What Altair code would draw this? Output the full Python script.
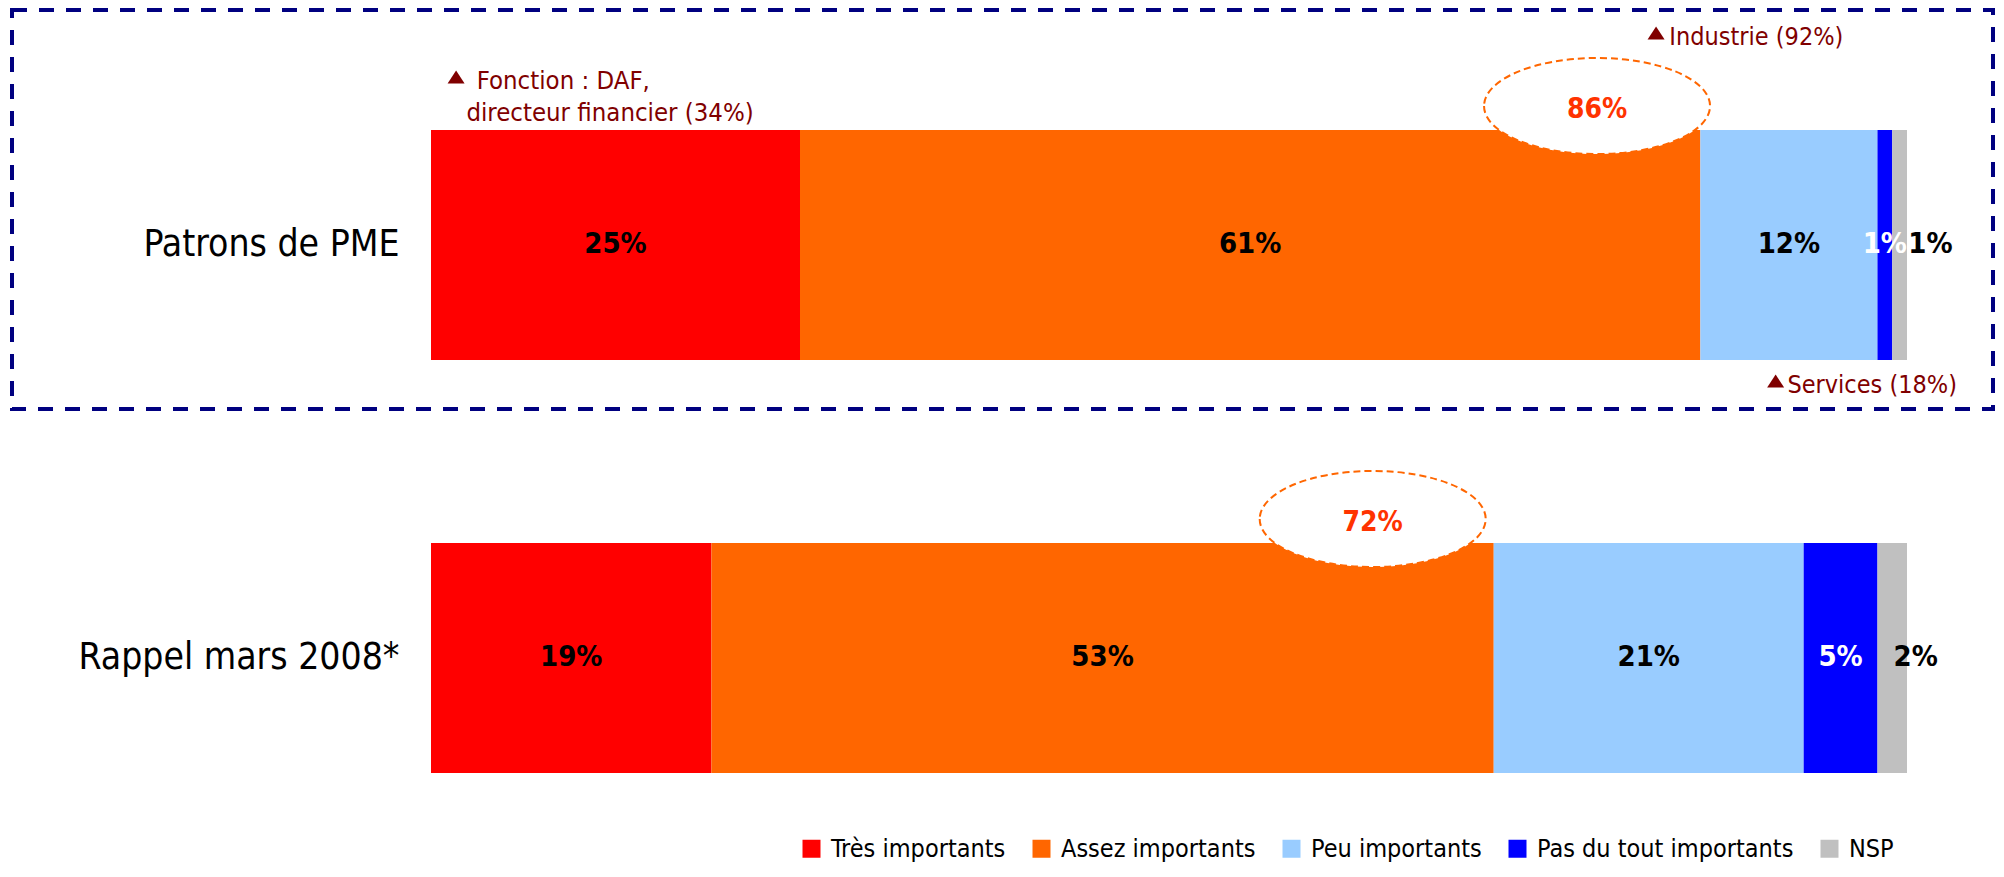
import altair as alt
import pandas as pd

# ---------------- data ----------------
rows = ["Patrons de PME", "Rappel mars 2008*"]
categories = ["Très importants", "Assez importants", "Peu importants",
              "Pas du tout importants", "NSP"]
colors = ["#FF0000", "#FF6600", "#99CCFF", "#0000FF", "#C0C0C0"]
label_colors = ["black", "black", "black", "white", "black"]
values_pme = [25, 61, 12, 1, 1]
values_2008 = [19, 53, 21, 5, 2]

total_labels = ["86%", "72%"]
total_x = [79.0, 63.8]          # ellipse centre along the bar (% units)

ann_text = ["Fonction : DAF,", "directeur financier (34%)",
            "Industrie (92%)", "Services (18%)"]
ann_x = [3.1, 2.4, 83.9, 91.9]
ann_row = ["Patrons de PME"] * 4
tri_x = [1.7, 83.0, 91.1]
tri_row = ["Patrons de PME"] * 3

FONT = "DejaVu Sans Condensed"
ANN_COLOR = "#800000"

# ---------------- tables ----------------
recs = []
for r, vals in zip(rows, [values_pme, values_2008]):
    start = 0
    for c, v, lc in zip(categories, vals, label_colors):
        recs.append({"row": r, "cat": c, "start": start, "end": start + v,
                     "mid": start + v / 2, "label": f"{v}%", "lcolor": lc})
        start += v
bars_df = pd.DataFrame(recs)
tot_df = pd.DataFrame({"row": rows, "x": total_x, "label": total_labels})

x_scale = alt.Scale(domain=[0, 100], nice=False, zero=False)
y_def = alt.Y("row:N",
              scale=alt.Scale(domain=rows, paddingInner=0.443, paddingOuter=0),
              axis=alt.Axis(title=None, ticks=False, domain=False, labelPadding=32,
                            labelFontSize=37, labelFont=FONT, labelColor="black",
                            labelLimit=600))

base = alt.Chart(bars_df)

bars = base.mark_bar().encode(
    x=alt.X("start:Q", scale=x_scale, axis=None),
    x2="end:Q",
    y=y_def,
    color=alt.Color("cat:N", scale=alt.Scale(domain=categories, range=colors),
                    sort=categories,
                    legend=alt.Legend(title=None, orient="none", direction="horizontal",
                                      legendX=368, legendY=706, symbolType="square",
                                      symbolSize=324, symbolStrokeWidth=0,
                                      labelFontSize=25, labelFont=FONT,
                                      labelColor="black", labelOffset=7,
                                      columnPadding=23, padding=0, labelLimit=500)),
)

labels_mid = base.transform_filter(alt.datum.cat != "NSP").mark_text(
    align="center", baseline="alphabetic", dy=8, fontSize=29,
    fontWeight="bold", font=FONT
).encode(x=alt.X("mid:Q", scale=x_scale), y=y_def,
         text="label:N", color=alt.Color("lcolor:N", scale=None))

labels_nsp = base.transform_filter(alt.datum.cat == "NSP").mark_text(
    align="left", baseline="alphabetic", dx=16, dy=8, fontSize=29,
    fontWeight="bold", font=FONT, color="black"
).encode(x=alt.X("start:Q", scale=x_scale), y=y_def, text="label:N")

ellipse_path = "M -1 0 A 1 0.425 0 1 0 1 0 A 1 0.425 0 1 0 -1 0 Z"
ellipses = alt.Chart(tot_df).mark_point(
    shape=ellipse_path, size=51076, filled=True, fill="white", opacity=1,
    stroke="#FF6600", strokeWidth=2, strokeDash=[7, 4], yOffset=-139
).encode(x=alt.X("x:Q", scale=x_scale), y=y_def)

tot_text = alt.Chart(tot_df).mark_text(
    align="center", baseline="alphabetic", dy=-127, fontSize=28,
    fontWeight="bold", font=FONT, color="#FF3300"
).encode(x=alt.X("x:Q", scale=x_scale), y=y_def, text="label:N")

# annotations
ann_dy = [-156, -124, -200, 148]
ann_size = [25.5, 25.5, 25, 25]
tri_dy = [-168, -212, 136]
tri_path = "M -1 0.765 L 1 0.765 L 0 -0.765 Z"

ann_layers = []
for t, xv, r, dy, fs in zip(ann_text, ann_x, ann_row, ann_dy, ann_size):
    d = pd.DataFrame({"row": [r], "x": [xv], "t": [t]})
    ann_layers.append(alt.Chart(d).mark_text(
        align="left", baseline="alphabetic", dy=dy, fontSize=fs, font=FONT,
        color=ANN_COLOR
    ).encode(x=alt.X("x:Q", scale=x_scale), y=y_def, text="t:N"))
for xv, r, dy in zip(tri_x, tri_row, tri_dy):
    d = pd.DataFrame({"row": [r], "x": [xv]})
    ann_layers.append(alt.Chart(d).mark_point(
        shape=tri_path, size=289, filled=True, color=ANN_COLOR, opacity=1,
        yOffset=dy
    ).encode(x=alt.X("x:Q", scale=x_scale), y=y_def))

frame = alt.Chart(pd.DataFrame({"a": [0]})).mark_rect(
    filled=False, stroke="#000080", strokeWidth=4, strokeDash=[15, 12]
).encode(x=alt.value(-419), x2=alt.value(1562), y=alt.value(-120), y2=alt.value(279))

chart = alt.layer(frame, bars, ellipses, labels_mid, labels_nsp, tot_text,
                  *ann_layers).properties(
    width=1476, height=643,
    padding={"left": 423, "top": 122, "right": 88, "bottom": 96},
    autosize=alt.AutoSizeParams(type="none"),
    background="white",
).configure_view(stroke=None)

chart.save("out.html", embed_options={"renderer": "svg", "actions": False})
